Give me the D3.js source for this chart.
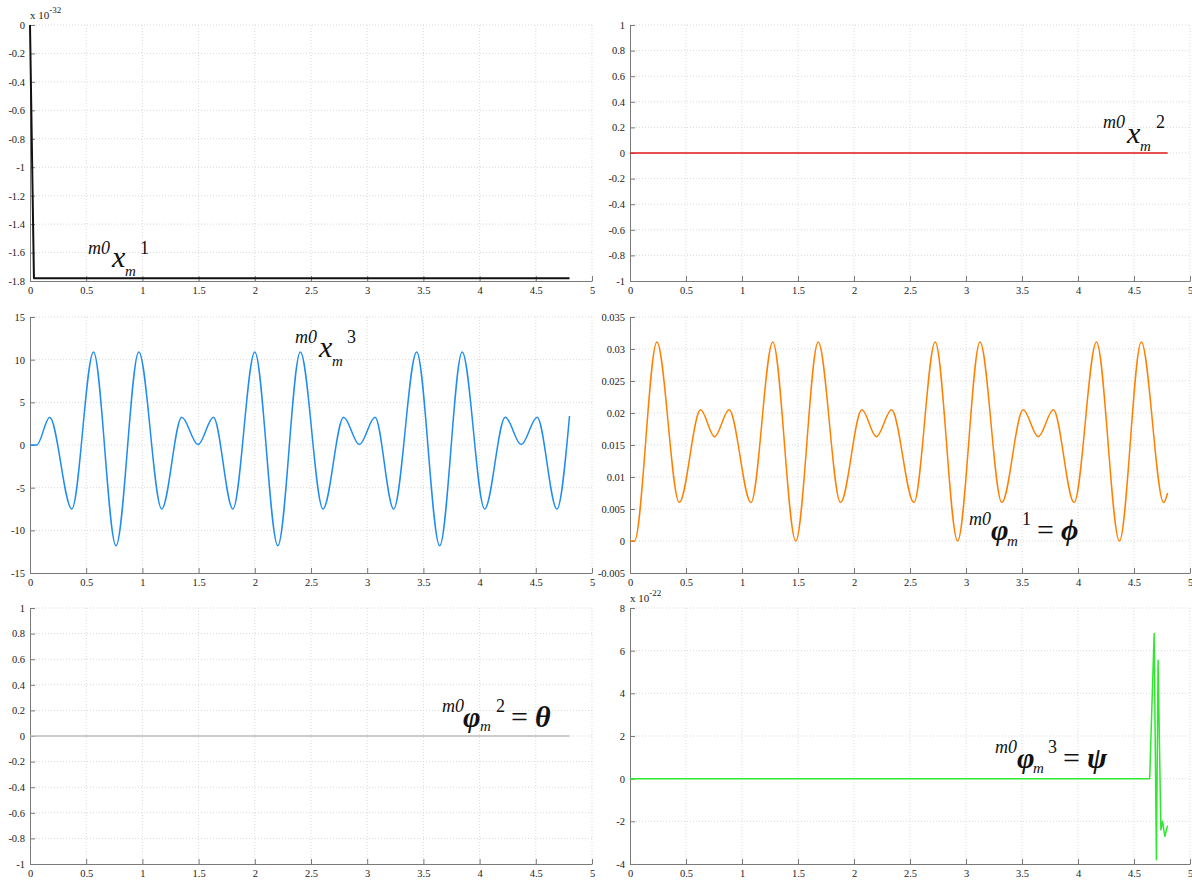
<!DOCTYPE html>
<html>
<head>
<meta charset="utf-8">
<script src="https://cdn.jsdelivr.net/npm/d3@7"></script>
<style>
  body { margin: 0; background: #fff; }
  .grid line { stroke: #d9d9d9; stroke-dasharray: 1,2; }
  .axis path, .axis line { stroke: #7a7a7a; }
  .lbl { fill: #111; }
</style>
</head>
<body>
<svg id="chart" width="1192" height="881"></svg>
<script>
const serif = 'Liberation Serif';

// shared x axis
const xTicks = [0, 0.5, 1, 1.5, 2, 2.5, 3, 3.5, 4, 4.5, 5];
const xTickLabels = ['0', '0.5', '1', '1.5', '2', '2.5', '3', '3.5', '4', '4.5', '5'];

// panel 1: m0 x_m^1 (x 10^-32)
const p1X = [0, 0.035, 4.8];
const p1Y = [0, -1.78, -1.78];
const p1Ticks = [0, -0.2, -0.4, -0.6, -0.8, -1, -1.2, -1.4, -1.6, -1.8];
const p1TickLabels = ['0', '-0.2', '-0.4', '-0.6', '-0.8', '-1', '-1.2', '-1.4', '-1.6', '-1.8'];

// panel 2: m0 x_m^2
const p2X = [0, 4.8];
const p2Y = [0, 0];
const unitTicks = [-1, -0.8, -0.6, -0.4, -0.2, 0, 0.2, 0.4, 0.6, 0.8, 1];
const unitTickLabels = ['-1', '-0.8', '-0.6', '-0.4', '-0.2', '0', '0.2', '0.4', '0.6', '0.8', '1'];

// panel 3: m0 x_m^3 (extrema)
const p3X = [0, 0.06, 0.175, 0.372, 0.565, 0.765, 0.968, 1.172, 1.35, 1.495, 1.632,
  1.805, 2.0, 2.205, 2.405, 2.607, 2.79, 2.93, 3.07, 3.235, 3.44, 3.645, 3.845,
  4.045, 4.228, 4.37, 4.512, 4.688, 4.8];
const p3Y = [0, 0, 3.25, -7.5, 10.9, -11.8, 10.9, -7.5, 3.25, 0.05, 3.25,
  -7.5, 10.9, -11.8, 10.9, -7.5, 3.25, 0.05, 3.25, -7.5, 10.9, -11.8, 10.9,
  -7.5, 3.25, 0.05, 3.25, -7.5, 3.4];
const p3Ticks = [-15, -10, -5, 0, 5, 10, 15];
const p3TickLabels = ['-15', '-10', '-5', '0', '5', '10', '15'];

// panel 4: m0 phi_m^1 = phi
const p4X = [0, 0.04, 0.24, 0.44, 0.63, 0.755, 0.885, 1.08, 1.275, 1.48, 1.68,
  1.88, 2.07, 2.2, 2.335, 2.535, 2.725, 2.925, 3.125, 3.32, 3.51, 3.645, 3.78,
  3.965, 4.165, 4.37, 4.565, 4.765, 4.8];
const p4Y = [0, 0, 0.0311, 0.006, 0.0205, 0.0163, 0.0205, 0.006, 0.0311, 0, 0.0311,
  0.006, 0.0205, 0.0163, 0.0205, 0.006, 0.0311, 0, 0.0311, 0.006, 0.0205, 0.0163, 0.0205,
  0.006, 0.0311, 0, 0.0311, 0.006, 0.0075];
const p4Ticks = [-0.005, 0, 0.005, 0.01, 0.015, 0.02, 0.025, 0.03, 0.035];
const p4TickLabels = ['-0.005', '0', '0.005', '0.01', '0.015', '0.02', '0.025', '0.03', '0.035'];

// panel 5: m0 phi_m^2 = theta
const p5X = [0, 4.8];
const p5Y = [0, 0];

// panel 6: m0 phi_m^3 = psi (x 10^-22)
const p6X = [0, 4.64, 4.68, 4.70, 4.715, 4.74, 4.755, 4.775, 4.80];
const p6Y = [0, 0, 6.8, -3.8, 5.55, -2.4, -2.0, -2.7, -2.2];
const p6Ticks = [-4, -2, 0, 2, 4, 6, 8];
const p6TickLabels = ['-4', '-2', '0', '2', '4', '6', '8'];

const svg = d3.select('#chart');
const colX = [{ left: 30, right: 592 }, { left: 630, right: 1190 }];
const rowY = [{ top: 25, bottom: 281 }, { top: 317, bottom: 573 }, { top: 608, bottom: 864 }];

function drawPanel(cfg) {
  const c = colX[cfg.col];
  const r = rowY[cfg.row];
  const x = d3.scaleLinear().domain([0, 5]).range([c.left, c.right]);
  const y = d3.scaleLinear().domain(cfg.yDomain).range([r.bottom, r.top]);
  const g = svg.append('g');

  // dotted grid
  const grid = g.append('g').attr('class', 'grid');
  grid.selectAll('.gx').data(xTicks.slice(1)).enter().append('line')
    .attr('x1', d => x(d)).attr('x2', d => x(d))
    .attr('y1', r.top).attr('y2', r.bottom);
  grid.selectAll('.gy').data(cfg.yTicks.filter(d => d !== cfg.yDomain[0])).enter().append('line')
    .attr('x1', c.left).attr('x2', c.right)
    .attr('y1', d => y(d)).attr('y2', d => y(d));

  // axes, ticks pointing inward
  const ax = g.append('g')
    .attr('class', 'axis')
    .attr('transform', `translate(0, ${r.bottom})`)
    .call(d3.axisBottom(x)
      .tickValues(xTicks)
      .tickSizeInner(-5)
      .tickSizeOuter(0)
      .tickPadding(6)
      .tickFormat((d, i) => xTickLabels[i]));

  const ay = g.append('g')
    .attr('class', 'axis')
    .attr('transform', `translate(${c.left}, 0)`)
    .call(d3.axisLeft(y)
      .tickValues(cfg.yTicks)
      .tickSizeInner(-5)
      .tickSizeOuter(0)
      .tickPadding(5)
      .tickFormat((d, i) => cfg.yTickLabels[i]));

  [ax, ay].forEach(a => a.selectAll('text')
    .style('font-family', serif)
    .style('font-size', '10.5px')
    .attr('fill', '#222'));

  // data line
  const line = d3.line()
    .x(d => x(d[0]))
    .y(d => y(d[1]))
    .curve(cfg.curve || d3.curveLinear);
  g.append('path')
    .datum(d3.zip(cfg.xs, cfg.ys))
    .attr('fill', 'none')
    .attr('stroke', cfg.color)
    .attr('stroke-width', cfg.lw || 1.5)
    .attr('stroke-linejoin', 'round')
    .attr('d', line);

  // exponent note
  if (cfg.exponent) {
    const t = g.append('text')
      .attr('x', c.left)
      .attr('y', r.top - 6)
      .style('font-family', serif)
      .style('font-size', '11px')
      .attr('fill', '#222');
    t.append('tspan').text('x 10');
    t.append('tspan').attr('dy', -6).style('font-size', '9px').text(cfg.exponent);
  }

  // math label
  if (cfg.label) {
    const L = cfg.label;
    const parts = [
      { t: 'm0', dx: 0, dy: 0, s: 18, st: 'italic', w: 'normal' },
      { t: L.sym, dx: L.symDx, dy: L.symDy, s: 30, st: 'italic', w: L.symW },
      { t: 'm', dx: L.subDx, dy: L.subDy, s: 15, st: 'italic', w: 'normal' },
      { t: L.sup, dx: L.supDx, dy: 0, s: 18, st: 'normal', w: 'normal' }
    ];
    if (L.rhs) {
      parts.push({ t: '=', dx: L.supDx + 15, dy: 15, s: 30, st: 'normal', w: 'normal' });
      parts.push({ t: L.rhs, dx: L.supDx + 39, dy: 15, s: 30, st: 'italic', w: 'bold' });
    }
    g.selectAll('.lbl').data(parts).enter().append('text')
      .attr('class', 'lbl')
      .attr('x', d => L.x + d.dx)
      .attr('y', d => L.y + d.dy)
      .style('font-family', serif)
      .style('font-size', d => d.s + 'px')
      .style('font-style', d => d.st)
      .style('font-weight', d => d.w)
      .text(d => d.t);
  }
}

drawPanel({
  col: 0, row: 0, yDomain: [-1.8, 0], yTicks: p1Ticks, yTickLabels: p1TickLabels,
  xs: p1X, ys: p1Y, color: '#111', lw: 2, exponent: '-32',
  label: { x: 88, y: 254, sym: 'x', symW: 'normal', symDx: 24, symDy: 13, subDx: 37, subDy: 22, sup: '1', supDx: 52 }
});
drawPanel({
  col: 1, row: 0, yDomain: [-1, 1], yTicks: unitTicks, yTickLabels: unitTickLabels,
  xs: p2X, ys: p2Y, color: '#e0191b',
  label: { x: 1103, y: 128, sym: 'x', symW: 'normal', symDx: 24, symDy: 15, subDx: 37, subDy: 23, sup: '2', supDx: 53 }
});
drawPanel({
  col: 0, row: 1, yDomain: [-15, 15], yTicks: p3Ticks, yTickLabels: p3TickLabels,
  xs: p3X, ys: p3Y, color: '#1e8cf0', curve: d3.curveMonotoneX,
  label: { x: 295, y: 343, sym: 'x', symW: 'normal', symDx: 24, symDy: 14, subDx: 37, subDy: 23, sup: '3', supDx: 52 }
});
drawPanel({
  col: 1, row: 1, yDomain: [-0.005, 0.035], yTicks: p4Ticks, yTickLabels: p4TickLabels,
  xs: p4X, ys: p4Y, color: '#ff8000', curve: d3.curveMonotoneX,
  label: { x: 969, y: 525, sym: '\u03C6', symW: 'bold', symDx: 22, symDy: 15, subDx: 38, subDy: 21, sup: '1', supDx: 53, rhs: '\u03D5' }
});
drawPanel({
  col: 0, row: 2, yDomain: [-1, 1], yTicks: unitTicks, yTickLabels: unitTickLabels,
  xs: p5X, ys: p5Y, color: '#bdbdbd',
  label: { x: 442, y: 712, sym: '\u03C6', symW: 'bold', symDx: 21, symDy: 15, subDx: 38, subDy: 19, sup: '2', supDx: 54, rhs: '\u03B8' }
});
drawPanel({
  col: 1, row: 2, yDomain: [-4, 8], yTicks: p6Ticks, yTickLabels: p6TickLabels,
  xs: p6X, ys: p6Y, color: '#2ee82e', exponent: '-22',
  label: { x: 995, y: 753, sym: '\u03C6', symW: 'bold', symDx: 22, symDy: 15, subDx: 38, subDy: 20, sup: '3', supDx: 53, rhs: '\u03C8' }
});
</script>
</body>
</html>
